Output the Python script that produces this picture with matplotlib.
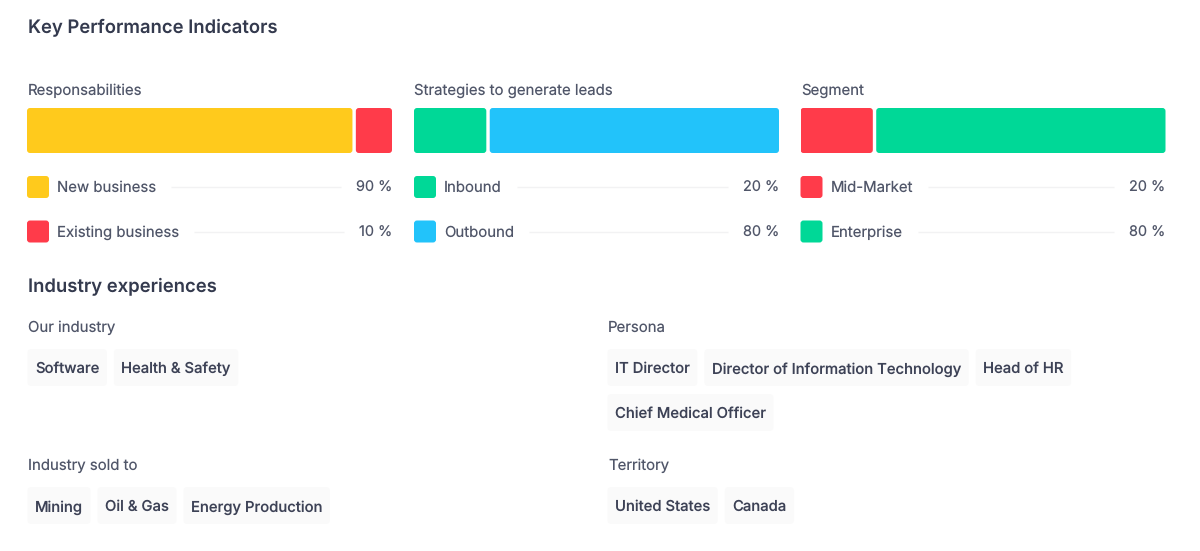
import matplotlib
matplotlib.use("Agg")
import matplotlib.pyplot as plt
from matplotlib.patches import FancyBboxPatch

plt.rcParams["font.family"] = ["Inter", "DejaVu Sans"]
plt.rcParams["text.hinting"] = "no_hinting"
plt.rcParams["text.hinting_factor"] = 1

W, H = 1200, 551

TITLE_KPI = "Key Performance Indicators"
TITLE_IND = "Industry experiences"

YELLOW = "#ffca1c"
RED = "#ff3b4a"
GREEN = "#00d897"
BLUE = "#22c3fa"

#os tres blocos de cima
group_names = ["Responsabilities", "Strategies to generate leads", "Segment"]
resp_labels = ["New business", "Existing business"]
resp_values = [90, 10]
resp_colors = [YELLOW, RED]
strat_labels = ["Inbound", "Outbound"]
strat_values = [20, 80]
strat_colors = [GREEN, BLUE]
seg_labels = ["Mid-Market", "Enterprise"]
seg_values = [20, 80]
seg_colors = [RED, GREEN]

#tags de baixo
our_industry = ["Software", "Health & Safety"]
persona = ["IT Director", "Director of Information Technology", "Head of HR", "Chief Medical Officer"]
industry_sold = ["Mining", "Oil & Gas", "Energy Production"]
territory = ["United States", "Canada"]

DARK = "#343a4e"
MID = "#505669"
TAG_TEXT = "#3d4256"
TAG_BG = "#fafafa"
LINE = "#f2f2f3"

fig = plt.figure(figsize=(W / 100, H / 100), dpi=100, facecolor="white")
ax = fig.add_axes([0, 0, 1, 1])
ax.set_xlim(0, W)
ax.set_ylim(H, 0)
ax.axis("off")
renderer = fig.canvas.get_renderer()


def text_width(t):
    return t.get_window_extent(renderer).width


def rbox(a, x, y, w, h, color, r, aspect=1):
    a.add_patch(FancyBboxPatch((x, y), w, h, boxstyle=f"round,pad=0,rounding_size={r}",
                               mutation_aspect=aspect, fc=color, ec="none"))


def draw_group(x0, name, labels, values, colors):
    width = 365
    ax.text(x0 + 0.5, 95, name, fontsize=10.75, color=MID, va="baseline")

    #barra empilhada com eixo proprio de 0 a 100, o gap sai do total
    bar_ax = fig.add_axes([x0 / W, 1 - 153 / H, width / W, 45 / H])
    bar_ax.set_xlim(0, 100)
    bar_ax.set_ylim(0, 1)
    bar_ax.axis("off")
    gap = 3.4 / width * 100
    r = 3 / width * 100
    aspect = (3 / 45) / r
    scale = 1 - gap / 100
    left = 0
    for v, c in zip(values, colors):
        rbox(bar_ax, left, 0, v * scale, 1, c, r, aspect)
        left += v * scale + gap

    #legenda com linha e valor
    for y, lab, v, c in zip([187, 231.5], labels, values, colors):
        rbox(ax, x0, y - 11, 22, 22, c, 3)
        t1 = ax.text(x0 + 30, y + 5, lab, fontsize=10.75, color=MID, va="baseline")
        t2 = ax.text(x0 + width, y + 5, f"{v} %", fontsize=10.4, color=MID, va="baseline", ha="right")
        x1 = x0 + 30 + text_width(t1) + 15
        x2 = x0 + width - text_width(t2) - 15
        ax.plot([x1, x2], [y, y], color=LINE, lw=1, solid_capstyle="butt")


def draw_tags(x0, y_label, name, tags, max_x):
    ax.text(x0 + 0.5, y_label + 5, name, fontsize=10.75, color=MID, va="baseline")
    x = x0
    y = y_label + 22
    for tag in tags:
        t = ax.text(x + 7.5, y + 24.3, tag, fontsize=10.68, color=TAG_TEXT, va="baseline", fontweight="medium", zorder=3)
        w = text_width(t) + 15
        if x + w > max_x:
            x = x0
            y += 45
            t.set_position((x + 7.5, y + 24.3))
        rbox(ax, x, y, w, 37, TAG_BG, 4)
        x += w + 7


ax.text(28, 33, TITLE_KPI, fontsize=13.3, color=DARK, va="baseline", fontweight="semibold")
ax.text(28, 292, TITLE_IND, fontsize=13.3, color=DARK, va="baseline", fontweight="semibold")

draw_group(27, group_names[0], resp_labels, resp_values, resp_colors)
draw_group(414, group_names[1], strat_labels, strat_values, strat_colors)
draw_group(800.5, group_names[2], seg_labels, seg_values, seg_colors)

draw_tags(27.5, 327, "Our industry", our_industry, 590)
draw_tags(607.5, 327, "Persona", persona, 1165)
draw_tags(27.5, 465, "Industry sold to", industry_sold, 590)
draw_tags(607.5, 465, "Territory", territory, 1165)

fig.savefig("out.png", dpi=100, facecolor="white")
